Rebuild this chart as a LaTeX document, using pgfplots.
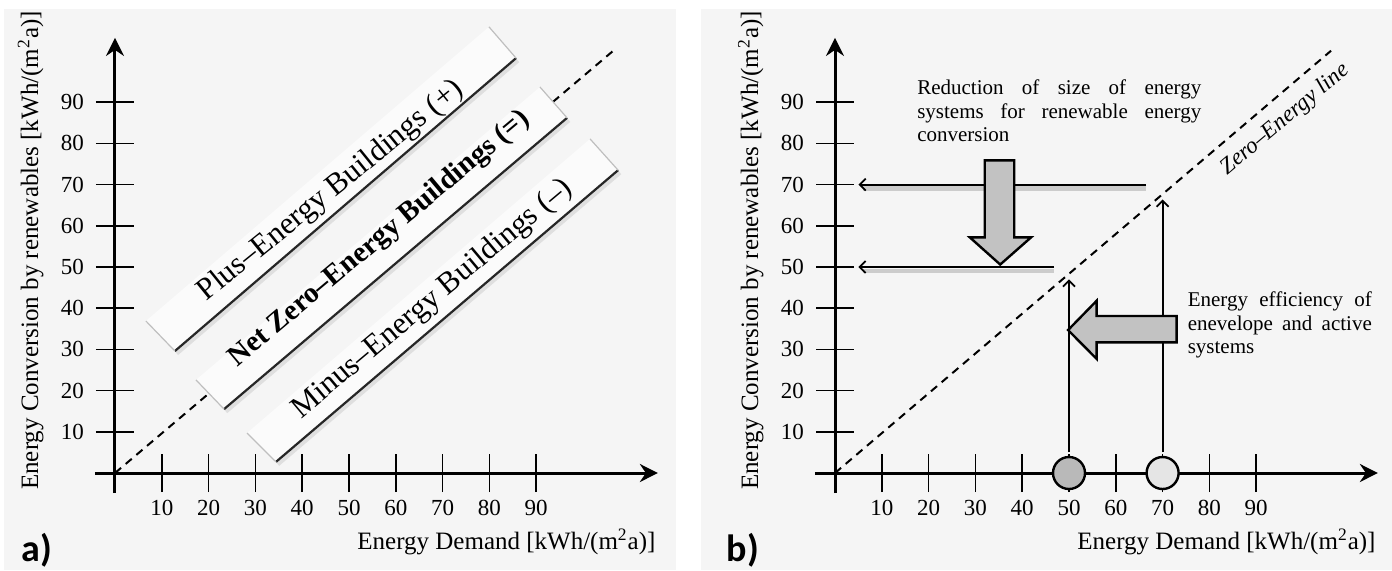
\documentclass[border=0pt]{standalone}
\usepackage{pgfplots}
\pgfplotsset{compat=1.18}
\usepackage{fontspec}
\setmainfont{Liberation Serif}
\newfontfamily\panelfont{Carlito}
\usetikzlibrary{arrows.meta}
\hyphenpenalty=10000
\exhyphenpenalty=10000

\definecolor{panelbg}{HTML}{F5F5F5}
\definecolor{bigarrow}{HTML}{C2C2C2}

\pgfplotsset{
  sketch/.style={
    axis lines=middle, clip=false,
    x=2.34pt, y=2.06pt,
    xmin=-4.3, xmax=116, ymin=-4.9, ymax=105.6,
    xtick={10,20,...,90}, ytick={10,20,...,90},
    tick align=center, major tick length=19pt,
    tick style={black, line width=0.8pt},
    axis line style={line width=1.5pt},
    every inner x axis line/.append style={-{Stealth[length=9pt,width=9pt,inset=3pt]}},
    every inner y axis line/.append style={-{Stealth[length=9pt,width=9pt,inset=3pt]}},
    /pgf/number format/assume math mode=true,
    tick label style={font=\fontsize{11.5}{13}\selectfont},
    xticklabel style={yshift=-0.5pt},
    yticklabel style={xshift=-2.5pt},
    every axis x label/.style={at={(axis cs:117,-16.7)}, anchor=east,
      font=\fontsize{12.5}{14}\selectfont},
    every axis y label/.style={at={(axis cs:-18,54)}, anchor=center, rotate=90,
      font=\fontsize{12.5}{14}\selectfont},
    xlabel={Energy Demand [kWh/(m\textsuperscript{2}a)]},
    ylabel={Energy Conversion by renewables [kWh/(m\textsuperscript{2}a)]},
  },
  banner/.style={fill=white!65!panelbg, draw=none},
  bannerend/.style={gray!50, line width=0.6pt},
  banneredge/.style={black!85, line width=1.1pt},
  bannershade/.style={gray!25, line width=2pt},
}

\begin{document}
\begin{tikzpicture}
\useasboundingbox (-57.5pt,-48.5pt) rectangle (638.5pt,236.5pt);
\fill[white] (-57.5pt,-48.5pt) rectangle (638.5pt,236.5pt);
\fill[panelbg] (-55.25pt,-48.5pt) rectangle (280.5pt,232pt);
\fill[panelbg] (293pt,-48.5pt) rectangle (638.5pt,232pt);

% a) building classes
\begin{axis}[sketch, at={(0pt,0pt)}, anchor=origin]
\addplot[black, line width=1pt, dash pattern=on 4pt off 3pt] coordinates {(0,0) (107,103)};
% plus
\addplot[banner] coordinates {(12.8,29.6) (85.7,100.7) (79.9,108.3) (6.6,36.9)} -- cycle;
\addplot[bannershade] coordinates {(13.2,29.0) (86.1,100.1)};
\addplot[banneredge] coordinates {(12.8,29.6) (85.7,100.7)};
\addplot[bannerend] coordinates {(12.8,29.6) (6.6,36.9)};
\addplot[bannerend] coordinates {(85.7,100.7) (79.9,108.3)};
% net zero
\addplot[banner] coordinates {(23.3,15.5) (96.6,86.2) (90.8,93.7) (17.3,22.6)} -- cycle;
\addplot[bannershade] coordinates {(23.7,14.9) (97.0,85.6)};
\addplot[banneredge] coordinates {(23.3,15.5) (96.6,86.2)};
\addplot[bannerend] coordinates {(23.3,15.5) (17.3,22.6)};
\addplot[bannerend] coordinates {(96.6,86.2) (90.8,93.7)};
% minus
\addplot[banner] coordinates {(34.4,2.7) (107.5,73.5) (101.5,81.1) (28.2,9.7)} -- cycle;
\addplot[bannershade] coordinates {(34.8,2.1) (107.9,72.9)};
\addplot[banneredge] coordinates {(34.4,2.7) (107.5,73.5)};
\addplot[bannerend] coordinates {(34.4,2.7) (28.2,9.7)};
\addplot[bannerend] coordinates {(107.5,73.5) (101.5,81.1)};

\node[rotate=39, font=\fontsize{15.5}{18}\selectfont] at (axis cs:46.2,68.4) {Plus–Energy Buildings (+)};
\node[rotate=40, font=\bfseries\fontsize{14.5}{18}\selectfont] at (axis cs:56.6,56.8) {Net Zero–Energy Buildings (=)};
\node[rotate=40, font=\fontsize{15.5}{18}\selectfont] at (axis cs:67.9,42.2) {Minus–Energy Buildings (–)};
\node[anchor=base west, font=\panelfont\bfseries\fontsize{19}{21}\selectfont] at (axis cs:-21.4,-21.4) {a)};
\end{axis}

% b) reduction paths
\begin{axis}[sketch, at={(360pt,0pt)}, anchor=origin]
\addplot[black, line width=1pt, dash pattern=on 4pt off 3pt] coordinates {(0,0) (106,102.5)};
\node[rotate=40, font=\itshape\fontsize{11.5}{13}\selectfont] at (axis cs:96.2,85.8) {Zero–Energy line};

% horizontal arrows with soft shadow
\addplot[gray!40, line width=2.2pt] coordinates {(6,69.1) (66.5,69.1)};
\addplot[gray!40, line width=2.2pt] coordinates {(6,49.1) (46.8,49.1)};
\addplot[black, line width=0.9pt, -{Straight Barb[length=3pt,width=6pt]}] coordinates {(66.5,70) (5,70)};
\addplot[black, line width=0.9pt, -{Straight Barb[length=3pt,width=6pt]}] coordinates {(46.8,50) (5,50)};

% vertical arrows
\addplot[black, line width=0.9pt, -{Straight Barb[length=3pt,width=6pt]}] coordinates {(50,5) (50,47)};
\addplot[black, line width=0.9pt, -{Straight Barb[length=3pt,width=6pt]}] coordinates {(70,5) (70,66.4)};

% block arrows
\addplot[fill=bigarrow, draw=black, line width=1.2pt] coordinates {(32.0,75.9) (38.3,75.9) (38.3,57.2) (41.9,57.2) (35.3,50.6) (28.8,57.2) (32.0,57.2)} -- cycle;
\addplot[fill=bigarrow, draw=black, line width=1.2pt] coordinates {(73,38.1) (55.9,38.1) (55.9,41.8) (49.8,34.7) (55.9,27.7) (55.9,31.7) (73,31.7)} -- cycle;

% demand points
\addplot[only marks, mark=*, mark size=8pt, mark options={fill=gray!55, draw=black, line width=1.2pt}] coordinates {(50,0)};
\addplot[only marks, mark=*, mark size=8pt, mark options={fill=gray!20, draw=black, line width=1.2pt}] coordinates {(70,0)};

\node[anchor=north west, inner sep=0pt, text width=142pt, align=justify, font=\fontsize{10.5}{11.7}\selectfont]
  at (axis cs:17.5,95.5) {Reduction of size of energy systems for renewable energy conversion};
\node[anchor=north west, inner sep=0pt, text width=92pt, align=justify, font=\fontsize{10.5}{11.7}\selectfont]
  at (axis cs:75.3,44) {Energy efficiency of enevelope and active systems};
\node[anchor=base west, font=\panelfont\bfseries\fontsize{19}{21}\selectfont] at (axis cs:-24.6,-21.4) {b)};
\end{axis}
\end{tikzpicture}
\end{document}
